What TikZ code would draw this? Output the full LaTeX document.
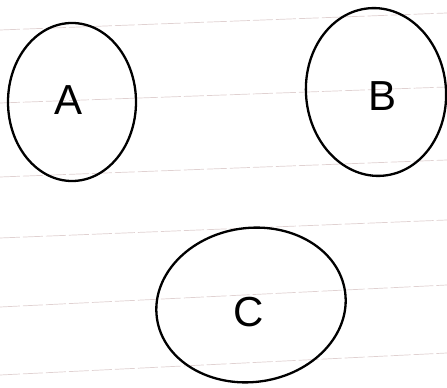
\documentclass[tikz,border=0pt]{standalone}
\usepackage{fontspec}
\setmainfont{Liberation Sans}
\usetikzlibrary{shapes.geometric}
\begin{document}
\begin{tikzpicture}[x=1pt,y=1pt,
  circ/.style={draw=black,line width=2.3pt,ellipse,inner sep=0pt},
  letter/.style={font=\fontsize{42}{42}\selectfont},
  rule/.style={draw=red!20!gray!30!white,line width=0.7pt,dashed,dash pattern=on 20pt off 3pt}]
\useasboundingbox (0,0) rectangle (447,388);
\fill[white] (0,0) rectangle (447,388);
% faint ruled lines
\draw[rule] (0,358) -- (447,375);
\draw[rule] (0,285) -- (447,301);
\draw[rule] (0,211) -- (447,228);
\draw[rule] (0,150) -- (447,168);
\draw[rule] (0,81) -- (447,103);
\draw[rule] (0,13) -- (447,35);
% ellipses
\node[circ,minimum width=128pt,minimum height=158pt] (A) at (72,286) {};
\node[circ,minimum width=140pt,minimum height=168pt,rotate=5] (B) at (376,296) {};
\node[circ,minimum width=190pt,minimum height=154pt,rotate=8] (C) at (251,83) {};
% letters
\node[letter,anchor=center] (la) at (69,288) {A};
\node[letter,anchor=center] (lb) at (383,292) {B};
\node[letter,anchor=center] (lc) at (249,76) {C};
\end{tikzpicture}
\end{document}
